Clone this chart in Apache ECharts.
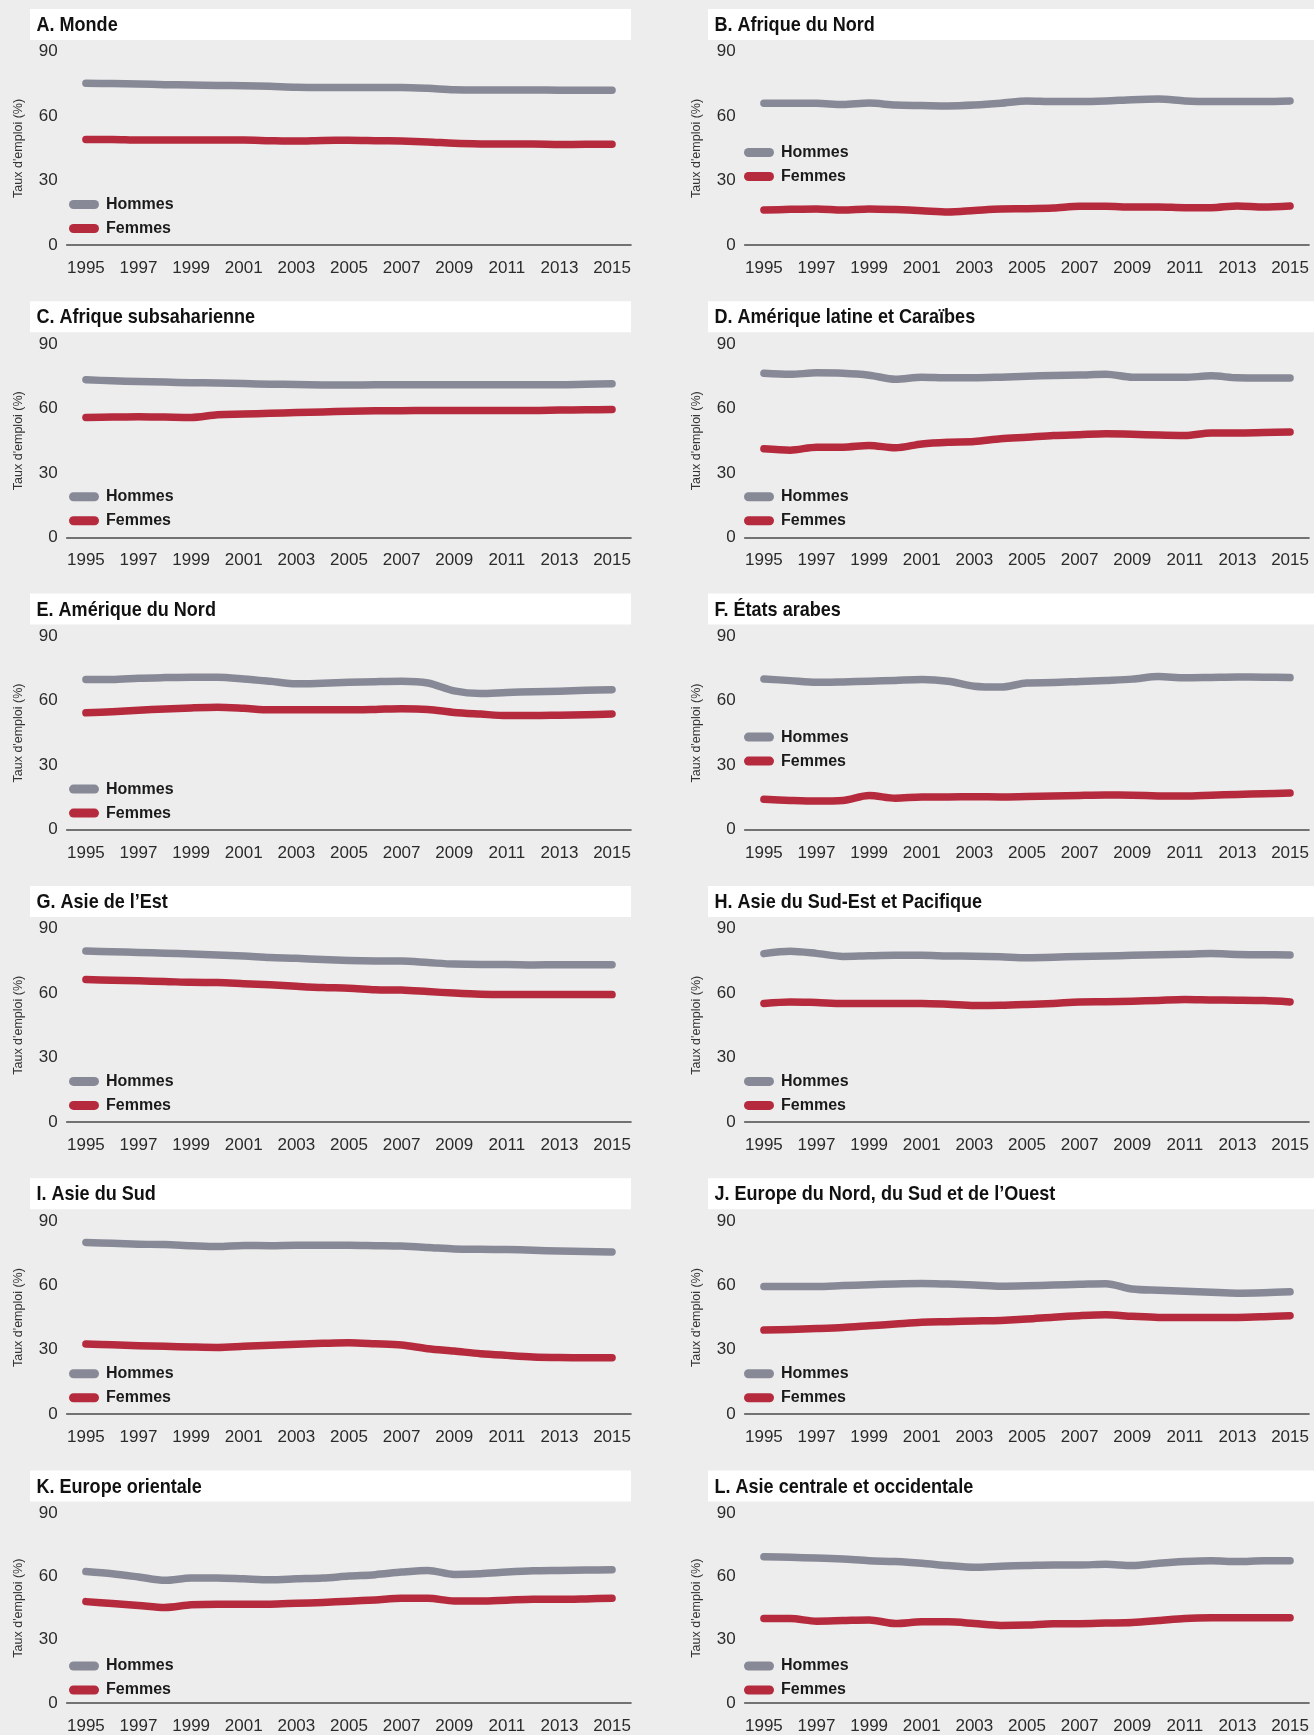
<!DOCTYPE html>
<html>
<head>
<meta charset="utf-8">
<script src="https://cdn.jsdelivr.net/npm/echarts@6/dist/echarts.min.js"></script>
<style>
  html, body { margin: 0; padding: 0; background: #ededed; }
  #chart { width: 1314px; height: 1735px; }
</style>
</head>
<body>
<div id="chart"></div>
<script>
// Employment-to-population ratio by sex and region, 1995–2015
const years = [1995, 1996, 1997, 1998, 1999, 2000, 2001, 2002, 2003, 2004, 2005,
               2006, 2007, 2008, 2009, 2010, 2011, 2012, 2013, 2014, 2015];
const yearLabels = [1995, 1997, 1999, 2001, 2003, 2005, 2007, 2009, 2011, 2013, 2015];
const seriesNames = ['Hommes', 'Femmes'];
const axisTitle = 'Taux d\'emploi (%)';

const panelTitles = [
  'A. Monde',
  'B. Afrique du Nord',
  'C. Afrique subsaharienne',
  'D. Amérique latine et Caraïbes',
  'E. Amérique du Nord',
  'F. États arabes',
  'G. Asie de l’Est',
  'H. Asie du Sud-Est et Pacifique',
  'I. Asie du Sud',
  'J. Europe du Nord, du Sud et de l’Ouest',
  'K. Europe orientale',
  'L. Asie centrale et occidentale'
];

const hommesA = [75.3, 75.2, 75.0, 74.7, 74.5, 74.3, 74.2, 73.9, 73.5, 73.4, 73.4, 73.4, 73.4, 73.0, 72.3, 72.2, 72.2, 72.2, 72.1, 72.1, 72.1];
const femmesA = [49.2, 49.2, 48.9, 48.9, 48.9, 48.9, 48.9, 48.6, 48.4, 48.7, 48.8, 48.6, 48.4, 48.0, 47.4, 47.1, 47.0, 47.0, 46.8, 46.9, 46.9];

const hommesB = [66.0, 66.0, 66.0, 65.4, 66.1, 65.2, 65.0, 64.8, 65.2, 66.0, 67.1, 66.8, 66.8, 67.1, 67.7, 68.0, 67.1, 66.8, 66.8, 66.8, 67.1];
const femmesB = [16.3, 16.6, 16.8, 16.3, 16.8, 16.5, 16.0, 15.4, 16.1, 16.8, 16.9, 17.2, 18.0, 18.0, 17.7, 17.7, 17.4, 17.4, 18.2, 17.7, 18.2];

const hommesC = [73.4, 72.9, 72.6, 72.3, 72.0, 71.9, 71.6, 71.3, 71.2, 71.0, 70.9, 71.1, 71.1, 71.1, 71.1, 71.1, 71.1, 71.1, 71.1, 71.3, 71.5];
const femmesC = [55.8, 56.0, 56.2, 56.0, 55.8, 57.1, 57.4, 57.8, 58.1, 58.4, 58.7, 58.9, 59.0, 59.1, 59.1, 59.1, 59.1, 59.1, 59.3, 59.4, 59.5];

const hommesD = [76.4, 75.9, 76.6, 76.4, 75.5, 73.6, 74.6, 74.3, 74.3, 74.6, 75.0, 75.4, 75.6, 76.0, 74.6, 74.5, 74.5, 75.2, 74.3, 74.2, 74.2];
const femmesD = [41.2, 40.6, 42.0, 42.0, 42.8, 41.7, 43.5, 44.3, 44.6, 45.9, 46.6, 47.4, 47.8, 48.2, 48.0, 47.6, 47.4, 48.6, 48.6, 48.8, 49.0];

const hommesE = [69.9, 69.9, 70.5, 70.8, 71.0, 71.0, 70.2, 69.1, 67.9, 68.2, 68.6, 68.9, 69.1, 68.3, 64.6, 63.4, 63.9, 64.2, 64.5, 64.9, 65.2];
const femmesE = [54.4, 54.9, 55.6, 56.2, 56.7, 57.0, 56.5, 55.8, 55.8, 55.8, 55.8, 56.0, 56.3, 56.0, 54.6, 53.8, 53.1, 53.1, 53.3, 53.5, 53.9];

const hommesF = [70.2, 69.4, 68.6, 68.8, 69.1, 69.5, 69.9, 69.1, 66.8, 66.4, 68.3, 68.5, 69.0, 69.5, 70.1, 71.3, 70.7, 70.9, 71.1, 71.0, 70.8];
const femmesF = [14.1, 13.6, 13.3, 13.6, 15.9, 14.6, 15.2, 15.2, 15.3, 15.2, 15.4, 15.6, 15.9, 16.1, 16.0, 15.7, 15.6, 16.0, 16.4, 16.7, 17.0];

const hommesG = [79.6, 79.3, 78.9, 78.6, 78.2, 77.8, 77.3, 76.6, 76.2, 75.6, 75.2, 75.0, 74.9, 74.2, 73.5, 73.3, 73.3, 73.1, 73.2, 73.2, 73.2];
const femmesG = [66.3, 66.0, 65.7, 65.4, 65.0, 64.9, 64.4, 63.9, 63.2, 62.6, 62.3, 61.6, 61.4, 60.7, 60.0, 59.5, 59.4, 59.4, 59.4, 59.4, 59.3];

const hommesH = [78.4, 79.5, 78.5, 77.1, 77.4, 77.6, 77.6, 77.3, 77.2, 76.9, 76.5, 76.7, 77.1, 77.3, 77.6, 77.9, 78.1, 78.4, 78.0, 77.9, 77.8];
const femmesH = [55.2, 55.9, 55.6, 55.2, 55.2, 55.2, 55.2, 54.8, 54.2, 54.3, 54.7, 55.2, 55.9, 56.0, 56.2, 56.6, 57.0, 56.8, 56.7, 56.5, 55.9];

const hommesI = [80.0, 79.6, 79.2, 79.0, 78.5, 78.1, 78.6, 78.5, 78.7, 78.7, 78.7, 78.5, 78.3, 77.7, 77.0, 76.8, 76.7, 76.4, 76.0, 75.8, 75.6];
const femmesI = [32.7, 32.3, 31.9, 31.6, 31.3, 31.1, 31.6, 32.1, 32.6, 33.0, 33.3, 32.8, 32.2, 30.5, 29.4, 28.2, 27.4, 26.7, 26.4, 26.3, 26.3];

const hommesJ = [59.5, 59.5, 59.5, 59.9, 60.3, 60.7, 60.9, 60.6, 60.2, 59.6, 59.8, 60.2, 60.5, 60.8, 58.3, 57.7, 57.3, 56.8, 56.4, 56.6, 57.0];
const femmesJ = [39.2, 39.5, 39.9, 40.4, 41.2, 42.0, 42.8, 43.1, 43.4, 43.7, 44.3, 45.2, 45.9, 46.3, 45.6, 45.1, 45.1, 45.1, 45.1, 45.4, 45.9];

const hommesK = [62.4, 61.3, 59.8, 58.2, 59.3, 59.3, 58.9, 58.5, 58.9, 59.3, 60.2, 60.9, 62.1, 62.9, 61.0, 61.3, 62.1, 62.7, 62.9, 63.1, 63.2];
const femmesK = [48.1, 47.2, 46.3, 45.3, 46.6, 46.9, 46.9, 46.9, 47.3, 47.7, 48.3, 48.9, 49.7, 49.7, 48.4, 48.4, 48.8, 49.2, 49.2, 49.4, 49.7];

const hommesL = [69.4, 69.1, 68.8, 68.3, 67.5, 67.1, 66.3, 65.2, 64.4, 64.9, 65.2, 65.5, 65.5, 65.8, 65.2, 66.3, 67.1, 67.5, 67.1, 67.5, 67.5];
const femmesL = [40.1, 40.1, 38.8, 39.1, 39.4, 37.7, 38.5, 38.5, 37.7, 36.8, 37.0, 37.6, 37.6, 37.9, 38.2, 39.1, 40.1, 40.4, 40.4, 40.4, 40.4];

const hommesByPanel = [hommesA, hommesB, hommesC, hommesD, hommesE, hommesF, hommesG, hommesH, hommesI, hommesJ, hommesK, hommesL];
const femmesByPanel = [femmesA, femmesB, femmesC, femmesD, femmesE, femmesF, femmesG, femmesH, femmesI, femmesJ, femmesK, femmesL];

// ---- layout & style ----
const COL_DX = 678;
const ROW_DY = 292.3;
const GRID = { left: 66.7, top: 51.8, width: 564.3, height: 193.2 };
const X_MIN = 1994.27, X_MAX = 2015.72;
const COLOR_H = '#878996';
const COLOR_F = '#b52a3c';
const BOLD = '"Liberation Sans", Arial, sans-serif';
const PLAIN = '"Liberation Sans", Arial, sans-serif';
const raisedLegend = [1, 5]; // panels whose legend sits higher, above the low curve

const toPoints = arr => years.map((y, k) => [y, arr[k]]);

const grid = [], xAxis = [], yAxis = [], series = [], legend = [], graphic = [];

panelTitles.forEach((name, i) => {
  const col = i % 2, row = Math.floor(i / 2);
  const ox = col * COL_DX, oy = row * ROW_DY;

  // white title band with a condensed bold heading
  graphic.push({
    type: 'rect', z: 0,
    shape: { x: ox + 30, y: oy + 9, width: col ? 640 : 601, height: 31 },
    style: { fill: '#ffffff' }
  });
  graphic.push({
    type: 'text', z: 10,
    x: ox + 36.5, y: oy + 25.5, scaleX: 0.88,
    style: {
      text: name, fill: '#111111',
      font: 'bold 20.5px ' + BOLD,
      textAlign: 'left', textVerticalAlign: 'middle'
    }
  });

  grid.push({ left: ox + GRID.left, top: oy + GRID.top, width: GRID.width, height: GRID.height, containLabel: false });

  xAxis.push({
    gridIndex: i, type: 'value', min: X_MIN, max: X_MAX,
    axisLine: { show: true, onZero: false, lineStyle: { color: '#4a4a4a', width: 1.6 } },
    axisTick: { show: false },
    splitLine: { show: false },
    axisLabel: {
      customValues: yearLabels, margin: 15,
      color: '#2b2b2b', fontSize: 17, fontFamily: PLAIN,
      formatter: v => String(v)
    }
  });

  yAxis.push({
    gridIndex: i, type: 'value', min: 0, max: 90, interval: 30,
    axisLine: { show: false }, axisTick: { show: false }, splitLine: { show: false },
    axisLabel: { margin: 9, color: '#2b2b2b', fontSize: 17, fontFamily: PLAIN },
    name: axisTitle, nameLocation: 'middle', nameGap: 42,
    nameTextStyle: { fontFamily: PLAIN, fontSize: 12.5, color: '#333333' }
  });

  [hommesByPanel[i], femmesByPanel[i]].forEach((vals, s) => {
    const c = s === 0 ? COLOR_H : COLOR_F;
    series.push({
      name: seriesNames[s], type: 'line',
      xAxisIndex: i, yAxisIndex: i,
      data: toPoints(vals),
      smooth: 0.3, showSymbol: false, symbol: 'none', silent: true,
      color: c,
      lineStyle: { color: c, width: 7.5, cap: 'round', join: 'round' },
      itemStyle: { color: c }
    });
  });

  const legendTop = raisedLegend.includes(i) ? 143.5 : 195.5;
  legend.push({
    left: ox + (col ? 66 : 69), top: oy + legendTop, orient: 'vertical',
    itemWidth: 30, itemHeight: 9, itemGap: 6, padding: 0,
    icon: 'path://M4.5,0 H25.5 A4.5,4.5 0 0 1 25.5,9 H4.5 A4.5,4.5 0 0 1 4.5,0 Z',
    selectedMode: false,
    data: seriesNames,
    textStyle: {
      fontFamily: BOLD, fontWeight: 'bold', fontSize: 16, color: '#1a1a1a',
      lineHeight: 18, padding: [0, 0, 0, 2]
    }
  });
});

const chart = echarts.init(document.getElementById('chart'), null, { renderer: 'canvas' });
chart.setOption({
  backgroundColor: '#ededed',
  animation: false,
  grid, xAxis, yAxis, series, legend, graphic
});
</script>
</body>
</html>
